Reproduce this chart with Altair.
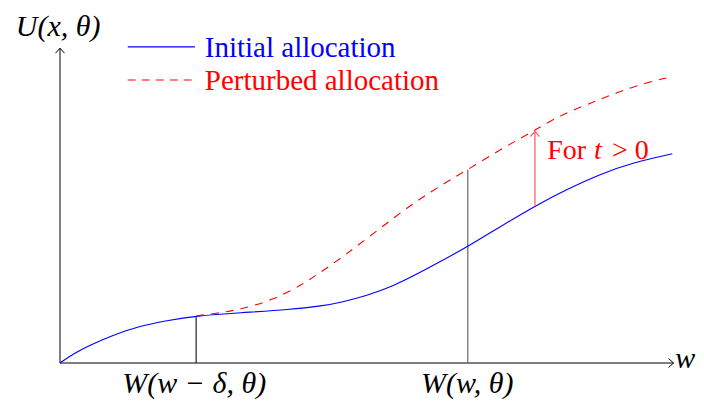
import altair as alt
import pandas as pd

# ---- data (abstract units: x 0..10 along w-axis, y 0..5 along U-axis) ----
blue_x = [0.00, 0.24, 0.49, 0.81, 1.25, 1.74, 2.21, 2.92, 3.73, 4.27, 4.55, 4.98, 5.41,
          5.84, 6.22, 6.62, 7.14, 7.71, 8.23, 8.77, 9.30, 9.94]
blue_y = [0.00, 0.16, 0.28, 0.42, 0.57, 0.67, 0.74, 0.79, 0.84, 0.90, 0.95, 1.06, 1.21,
          1.42, 1.62, 1.83, 2.14, 2.47, 2.73, 2.97, 3.15, 3.29]

red_x = [2.21, 2.60, 2.92, 3.46, 3.93, 4.22, 4.59, 5.00, 5.44, 5.84, 6.28, 6.62, 7.14,
         7.47, 7.71, 8.00, 8.31, 8.65, 8.93, 9.30, 9.69, 9.94]
red_y = [0.74, 0.79, 0.84, 0.99, 1.23, 1.42, 1.67, 1.97, 2.30, 2.58, 2.85, 3.04, 3.35,
         3.53, 3.66, 3.83, 3.97, 4.10, 4.21, 4.34, 4.45, 4.50]

# axes (start -> tip)
axis_x1 = [0.0, 0.0]
axis_y1 = [0.0, 0.0]
axis_x2 = [9.96, 0.0]
axis_y2 = [0.0, 4.95]

# vertical markers at W(w-delta,theta) and W(w,theta)
vline_x = [2.21, 6.62]
vline_top = [0.74, 3.04]
vline_color = ["#222222", "#666666"]

# perturbation arrow
arrow_x = [7.71]
arrow_from = [2.47]
arrow_to = [3.64]

# legend
legend_labels = ["Initial allocation", "Perturbed allocation"]
legend_colors = ["#0000ff", "#ff0000"]
legend_line_x1 = [1.10, 1.10]
legend_line_x2 = [2.19, 2.19]
legend_line_y = [4.97, 4.45]
legend_text_x = [2.35, 2.35]
legend_text_y = [4.81, 4.29]

# math labels
math_labels = ["U(x, θ)", "W(w − δ, θ)", "W(w, θ)", "w"]
math_x = [-0.03, 2.18, 6.61, 10.15]
math_y = [5.14, -0.47, -0.47, -0.08]

# "For t > 0" pieces
for_pieces = ["For", "t", "> 0"]
for_style = ["normal", "italic", "normal"]
for_x = [7.91, 8.67, 8.96]
for_y = [3.21, 3.21, 3.21]

# ---- layout ----
W, H = 688, 392
PXX, PXY = 61.6, 63.6
OX, OY = 52, 355
xdom = [-OX / PXX, (W - OX) / PXX]
ydom = [-(H - OY) / PXY, OY / PXY]
FONT = "Liberation Serif"


def X(f):
    return alt.X(f"{f}:Q", scale=alt.Scale(domain=xdom, nice=False, zero=False), axis=None)


def Y(f):
    return alt.Y(f"{f}:Q", scale=alt.Scale(domain=ydom, nice=False, zero=False), axis=None)


blue_df = pd.DataFrame({"x": blue_x, "y": blue_y})
red_df = pd.DataFrame({"x": red_x, "y": red_y})

blue = alt.Chart(blue_df).mark_line(color="#0000ff", strokeWidth=1.1, interpolate="basis").encode(
    x=X("x"), y=Y("y"))
red = alt.Chart(red_df).mark_line(color="#ff0000", strokeWidth=1.1, interpolate="basis",
                                  strokeDash=[8, 7]).encode(x=X("x"), y=Y("y"))

axes_df = pd.DataFrame({"x": axis_x1, "y": axis_y1, "x2": axis_x2, "y2": axis_y2})
axes = alt.Chart(axes_df).mark_rule(color="#000000", strokeWidth=1).encode(
    x=X("x"), y=Y("y"), x2="x2:Q", y2="y2:Q")

xtip = alt.Chart(pd.DataFrame({"x": axis_x2[:1], "y": axis_y2[:1]})).mark_point(
    shape="M-1,-0.9L0,0L-1,0.9", filled=False, size=100, strokeWidth=1, opacity=1, color="#000000"
).encode(x=X("x"), y=Y("y"))
ytip = alt.Chart(pd.DataFrame({"x": axis_x2[1:], "y": axis_y2[1:]})).mark_point(
    shape="M-0.9,1L0,0L0.9,1", filled=False, size=100, strokeWidth=1, opacity=1, color="#000000"
).encode(x=X("x"), y=Y("y"))

vl_df = pd.DataFrame({"x": vline_x, "y": [0.0] * len(vline_x), "y2": vline_top, "c": vline_color})
vlines = alt.Chart(vl_df).mark_rule(strokeWidth=1.2).encode(
    x=X("x"), y=Y("y"), y2="y2:Q", color=alt.Color("c:N", scale=None))

ar_df = pd.DataFrame({"x": arrow_x, "y": arrow_from, "y2": arrow_to})
arrow = alt.Chart(ar_df).mark_rule(color="#ff6464", strokeWidth=1.3).encode(
    x=X("x"), y=Y("y"), y2="y2:Q")
arrow_tip = alt.Chart(pd.DataFrame({"x": arrow_x, "y": arrow_to})).mark_point(
    shape="M-0.9,1L0,0L0.9,1", filled=False, size=100, strokeWidth=1.2, opacity=1, color="#ff6464"
).encode(x=X("x"), y=Y("y"))

leg_df = pd.DataFrame({"label": legend_labels, "c": legend_colors, "x1": legend_line_x1,
                       "x2": legend_line_x2, "y": legend_line_y, "tx": legend_text_x,
                       "ty": legend_text_y})
leg_blue = alt.Chart(leg_df.iloc[:1]).mark_rule(color="#0000ff", strokeWidth=1.1).encode(
    x=X("x1"), x2="x2:Q", y=Y("y"))
leg_red = alt.Chart(leg_df.iloc[1:]).mark_rule(color="#ff0000", strokeWidth=1.1,
                                                strokeDash=[8, 6]).encode(
    x=X("x1"), x2="x2:Q", y=Y("y"))
leg_text = alt.Chart(leg_df).mark_text(font=FONT, fontSize=29, align="left",
                                       baseline="alphabetic").encode(
    x=X("tx"), y=Y("ty"), text="label:N", color=alt.Color("c:N", scale=None))

math_df = pd.DataFrame({"t": math_labels, "x": math_x, "y": math_y})
math_text = alt.Chart(math_df).mark_text(font=FONT, fontSize=30, fontStyle="italic",
                                         align="center", baseline="alphabetic",
                                         color="black").encode(
    x=X("x"), y=Y("y"), text="t:N")

for_df = pd.DataFrame({"t": for_pieces, "s": for_style, "x": for_x, "y": for_y})
for_normal = alt.Chart(for_df[for_df.s == "normal"]).mark_text(
    font=FONT, fontSize=28, align="left", baseline="alphabetic", color="#ff0000").encode(
    x=X("x"), y=Y("y"), text="t:N")
for_italic = alt.Chart(for_df[for_df.s == "italic"]).mark_text(
    font=FONT, fontSize=28, fontStyle="italic", align="left", baseline="alphabetic",
    color="#ff0000").encode(x=X("x"), y=Y("y"), text="t:N")

chart = alt.layer(
    axes, xtip, ytip, vlines, blue, red, arrow, arrow_tip,
    leg_blue, leg_red, leg_text, math_text, for_normal, for_italic
).properties(
    width=W, height=H, padding=0, autosize=alt.AutoSizeParams(type="none"),
    background="white"
).configure_view(stroke=None)

chart.save("out.html", embed_options={"renderer": "svg", "actions": False})
